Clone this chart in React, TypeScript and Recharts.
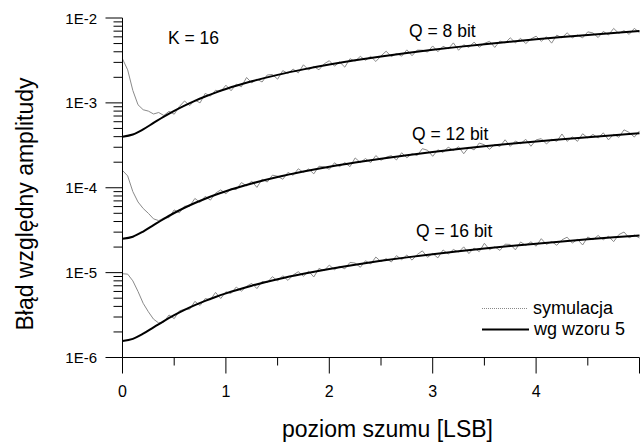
import React from "react";
import { LineChart, Line, XAxis, YAxis, Customized } from "recharts";

const FONT = "'Liberation Sans', Arial, sans-serif";

// simulation: noise level step 0.05 LSB
const SIM_STEP = 0.05;

// Q = 8 bit, units of 1e-3
const SIM_Q8 = [
  3.30, 2.45, 1.40, 0.95, 0.83, 0.80, 0.74, 0.77, 0.71, 0.795,
  0.735, 0.906, 1.053, 0.928, 1.081, 1.000, 1.294, 1.200, 1.409, 1.358,
  1.616, 1.390, 1.661, 1.550, 1.993, 1.716, 1.904, 1.762, 2.132, 2.160,
  1.903, 2.401, 2.225, 2.499, 2.254, 2.810, 2.440, 2.679, 2.453, 2.880,
  3.140, 2.707, 3.032, 2.636, 3.311, 3.105, 3.531, 3.168, 3.533, 3.073,
  3.576, 4.066, 3.501, 3.814, 3.550, 4.212, 3.593, 4.186, 4.170, 3.966,
  4.683, 4.006, 4.646, 4.331, 5.092, 4.166, 4.841, 4.500, 5.197, 4.527,
  5.024, 5.315, 4.500, 5.352, 5.081, 5.844, 5.100, 5.762, 4.993, 5.666,
  6.108, 5.309, 6.007, 5.055, 6.283, 5.832, 6.697, 5.834, 6.309, 5.831,
  6.869, 6.664, 5.884, 6.952, 6.302, 7.541, 6.584, 7.101, 6.418, 7.553,
  6.703,
];

// Q = 12 bit, units of 1e-4
const SIM_Q12 = [
  1.60, 1.38, 0.90, 0.68, 0.57, 0.50, 0.43, 0.41, 0.44, 0.445,
  0.548, 0.507, 0.607, 0.607, 0.748, 0.672, 0.792, 0.715, 0.862, 0.944,
  0.850, 0.973, 0.950, 1.151, 1.055, 1.196, 1.010, 1.261, 1.168, 1.407,
  1.365, 1.258, 1.516, 1.401, 1.674, 1.517, 1.665, 1.458, 1.792, 1.762,
  1.651, 1.970, 1.772, 1.982, 1.770, 2.246, 1.983, 2.208, 1.975, 2.395,
  2.105, 2.294, 2.390, 2.127, 2.585, 2.259, 2.517, 2.396, 2.887, 2.764,
  2.347, 2.799, 2.604, 3.011, 2.749, 3.043, 2.515, 3.007, 2.789, 3.362,
  3.208, 2.842, 3.230, 3.063, 3.676, 3.074, 3.554, 3.304, 3.723, 3.084,
  3.663, 3.787, 3.280, 3.720, 3.522, 4.301, 3.522, 3.982, 3.518, 4.331,
  3.859, 4.252, 3.855, 4.435, 3.667, 4.256, 3.930, 4.812, 4.484, 3.957,
  4.671,
];

// Q = 16 bit, units of 1e-5
const SIM_Q16 = [
  0.97, 0.96, 0.80, 0.60, 0.435, 0.346, 0.283, 0.255, 0.262, 0.317,
  0.287, 0.354, 0.371, 0.371, 0.459, 0.410, 0.495, 0.479, 0.585, 0.495,
  0.594, 0.569, 0.676, 0.605, 0.689, 0.747, 0.648, 0.788, 0.764, 0.897,
  0.798, 0.919, 0.810, 0.936, 1.026, 0.906, 1.041, 0.889, 1.120, 1.054,
  1.227, 1.082, 1.184, 1.108, 1.320, 1.295, 1.156, 1.380, 1.264, 1.527,
  1.346, 1.465, 1.336, 1.586, 1.419, 1.612, 1.404, 1.635, 1.804, 1.514,
  1.684, 1.491, 1.852, 1.654, 1.873, 1.745, 2.011, 1.677, 1.948, 1.768,
  2.216, 1.862, 2.018, 1.826, 2.163, 2.147, 1.855, 2.297, 2.092, 2.308,
  2.048, 2.513, 2.149, 2.325, 2.100, 2.432, 2.616, 2.227, 2.464, 2.117,
  2.629, 2.439, 2.742, 2.436, 2.688, 2.316, 2.803, 3.008, 2.566, 2.771,
  2.558,
];

// "wg wzoru 5" curves
const THEORY_X = [
  0, 0.1, 0.2, 0.3, 0.4, 0.5, 0.6, 0.7, 0.8, 0.9, 1.0, 1.25, 1.5, 1.75,
  2, 2.25, 2.5, 2.75, 3, 3.25, 3.5, 3.75, 4, 4.25, 4.5, 4.75, 5,
];
const THEORY_Q8 = [
  0.400, 0.424, 0.488, 0.580, 0.688, 0.806, 0.930, 1.058, 1.189, 1.322, 1.456,
  1.795, 2.138, 2.482, 2.828, 3.175, 3.523, 3.871, 4.219, 4.568, 4.916, 5.265,
  5.614, 5.963, 6.313, 6.662, 7.011,
];
const THEORY_Q12 = [
  0.250, 0.265, 0.305, 0.3625, 0.430, 0.504, 0.581, 0.661, 0.743, 0.826, 0.910,
  1.122, 1.336, 1.551, 1.768, 1.984, 2.202, 2.419, 2.637, 2.855, 3.073, 3.291,
  3.509, 3.727, 3.946, 4.164, 4.382,
];
const THEORY_Q16 = [
  0.1563, 0.1656, 0.1906, 0.2266, 0.2688, 0.3148, 0.3633, 0.4133, 0.4645,
  0.5164, 0.5688, 0.7012, 0.8352, 0.9695, 1.1047, 1.2402, 1.3762, 1.5121,
  1.6480, 1.7844, 1.9203, 2.0566, 2.1930, 2.3293, 2.4660, 2.6023, 2.7387,
];

const X_TICKS = [0, 0.5, 1, 1.5, 2, 2.5, 3, 3.5, 4, 4.5, 5];
const X_LABELS: Record<number, string> = { 0: "0", 1: "1", 2: "2", 3: "3", 4: "4" };
const DECADES = [-6, -5, -4, -3];
const Y_LABELS: Record<number, string> = {
  [-6]: "1E-6", [-5]: "1E-5", [-4]: "1E-4", [-3]: "1E-3", [-2]: "1E-2",
};

const simSeries = (vals: number[], unit: number) =>
  vals.map((v, i) => ({ x: +(i * SIM_STEP).toFixed(2), y: v * unit }));
const theorySeries = (vals: number[], unit: number) =>
  vals.map((v, i) => ({ x: THEORY_X[i], y: v * unit }));

const sim8 = simSeries(SIM_Q8, 1e-3);
const sim12 = simSeries(SIM_Q12, 1e-4);
const sim16 = simSeries(SIM_Q16, 1e-5);
const th8 = theorySeries(THEORY_Q8, 1e-3);
const th12 = theorySeries(THEORY_Q12, 1e-4);
const th16 = theorySeries(THEORY_Q16, 1e-5);

const yTicks: number[] = [];
DECADES.forEach((d) => {
  for (let m = 1; m <= 9; m++) yTicks.push(m * Math.pow(10, d));
});
yTicks.push(1e-2);

// chart box
const W = 642;
const H = 445;
const MARGIN = { top: 18, right: 2.5, bottom: 57.5, left: 0 };
const Y_AXIS_W = 122.5;
const X_AXIS_H = 30;
const X_DOMAIN = [0, 5];
const Y_DOMAIN = [1e-6, 1e-2];

// plot rect, same as the one the chart lays out
const PL = MARGIN.left + Y_AXIS_W;
const PT = MARGIN.top;
const PW = W - PL - MARGIN.right;
const PH = H - PT - MARGIN.bottom - X_AXIS_H;
const px = (v: number) => PL + ((v - X_DOMAIN[0]) / (X_DOMAIN[1] - X_DOMAIN[0])) * PW;
const py = (v: number) =>
  PT + ((Math.log10(Y_DOMAIN[1]) - Math.log10(v)) / (Math.log10(Y_DOMAIN[1]) - Math.log10(Y_DOMAIN[0]))) * PH;

const isWhole = (v: number) => Math.abs(v - Math.round(v)) < 1e-6;

const XTick = (props: any) => {
  const { x, y, payload } = props;
  const v = payload.value;
  const label = isWhole(v) ? X_LABELS[Math.round(v)] : undefined;
  if (label === undefined) return <g />;
  return (
    <text x={x} y={y + 39} textAnchor="middle" fontSize={16} fontFamily={FONT} fill="#000">
      {label}
    </text>
  );
};

const YTick = (props: any) => {
  const { x, y, payload } = props;
  const lg = Math.log10(payload.value);
  if (!isWhole(lg)) return <g />;
  return (
    <text x={x - 25.5} y={y + 5.5} textAnchor="end" fontSize={15} fontFamily={FONT} fill="#000">
      {Y_LABELS[Math.round(lg)]}
    </text>
  );
};

// tick marks (major long, minor short) outside the plot
const TickMarks = () => (
  <g stroke="#000" strokeWidth={1} fill="none">
    {X_TICKS.map((v) => {
      const x = px(v);
      const bottom = PT + PH;
      return <line key={`x${v}`} x1={x} x2={x} y1={bottom} y2={bottom + (isWhole(v) ? 16 : 8)} />;
    })}
    {yTicks.map((v) => {
      const y = py(v);
      const len = isWhole(Math.log10(v)) ? 17 : 9;
      return <line key={`y${v}`} x1={PL - len} x2={PL} y1={y} y2={y} />;
    })}
  </g>
);

const Annotations = () => (
  <g fontFamily={FONT} fill="#000">
    <TickMarks />
    <text x={168} y={43.5} fontSize={17.5}>K = 16</text>
    <text x={409} y={36.5} fontSize={17.5}>Q = 8 bit</text>
    <text x={412} y={140} fontSize={17.5}>Q = 12 bit</text>
    <text x={416} y={236.5} fontSize={17.5}>Q = 16 bit</text>

    <line x1={482} x2={528} y1={308.5} y2={308.5} stroke="#888" strokeWidth={1} strokeDasharray="1 1" />
    <text x={533} y={313.5} fontSize={18}>symulacja</text>
    <line x1={482} x2={529} y1={329.5} y2={329.5} stroke="#000" strokeWidth={2} />
    <text x={534} y={335} fontSize={18}>wg wzoru 5</text>

    <text x={387.5} y={436.5} fontSize={23} textAnchor="middle">poziom szumu [LSB]</text>
    <text x={33} y={204} fontSize={23} textAnchor="middle" transform="rotate(-90, 33, 204)">
      Błąd względny amplitudy
    </text>
  </g>
);

export default function App() {
  return (
    <div style={{ position: "absolute", left: 0, top: 0, width: W, height: H, background: "#fff" }}>
      <LineChart width={W} height={H} margin={MARGIN}>
        <XAxis
          dataKey="x"
          type="number"
          domain={X_DOMAIN}
          ticks={X_TICKS}
          interval={0}
          height={X_AXIS_H}
          tickSize={0}
          tickMargin={0}
          tickLine={false}
          tick={<XTick />}
          axisLine={{ stroke: "#000", strokeWidth: 1 }}
        />
        <YAxis
          type="number"
          scale="log"
          domain={Y_DOMAIN}
          ticks={yTicks}
          interval={0}
          width={Y_AXIS_W}
          tickSize={0}
          tickMargin={0}
          tickLine={false}
          tick={<YTick />}
          axisLine={{ stroke: "#000", strokeWidth: 1 }}
        />
        <Line data={sim8} dataKey="y" type="linear" stroke="#8a8a8a" strokeWidth={1} dot={false} isAnimationActive={false} />
        <Line data={sim12} dataKey="y" type="linear" stroke="#8a8a8a" strokeWidth={1} dot={false} isAnimationActive={false} />
        <Line data={sim16} dataKey="y" type="linear" stroke="#8a8a8a" strokeWidth={1} dot={false} isAnimationActive={false} />
        <Line data={th8} dataKey="y" type="monotone" stroke="#000" strokeWidth={2} dot={false} isAnimationActive={false} />
        <Line data={th12} dataKey="y" type="monotone" stroke="#000" strokeWidth={2} dot={false} isAnimationActive={false} />
        <Line data={th16} dataKey="y" type="monotone" stroke="#000" strokeWidth={2} dot={false} isAnimationActive={false} />
        <Customized component={<Annotations />} />
      </LineChart>
    </div>
  );
}
